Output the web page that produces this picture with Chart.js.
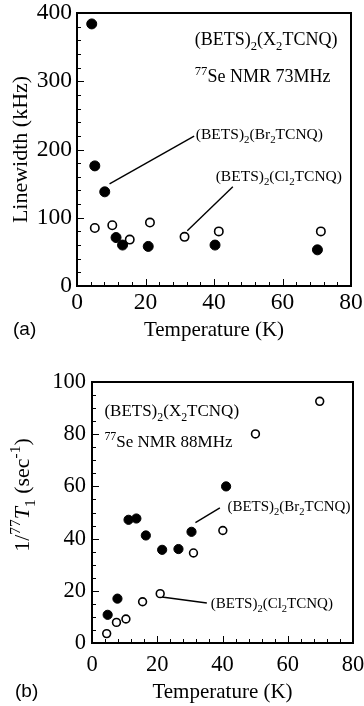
<!DOCTYPE html>
<html>
<head>
<meta charset="utf-8">
<script src="https://cdn.jsdelivr.net/npm/chart.js@4.4.1/dist/chart.umd.min.js"></script>
<style>
  html, body { margin: 0; padding: 0; background: #fff; }
  canvas { position: absolute; left: 0; }
  #chartA { top: 0; }
  #chartB { top: 345px; }
</style>
</head>
<body>
<canvas id="chartA" width="364" height="345"></canvas>
<canvas id="chartB" width="364" height="361"></canvas>
<script>
// (a) 77Se NMR linewidth, 73 MHz
const tempA_Br = [4.3, 5.2, 8.1, 11.4, 13.3, 20.8, 40.3, 70.2];
const widthA_Br = [384, 176, 138, 71, 60, 58, 60, 53];
const tempA_Cl = [5.2, 10.3, 15.4, 21.3, 31.4, 41.4, 71.2];
const widthA_Cl = [85, 89, 68, 93, 72, 80, 80];

// (b) 1/T1, 88 MHz
const tempB_Br = [4.8, 7.8, 11.2, 13.6, 16.5, 21.5, 26.5, 30.5, 41.1];
const rateB_Br = [10.8, 17, 47.2, 47.7, 41.2, 35.7, 36, 42.6, 60];
const tempB_Cl = [4.5, 7.5, 10.4, 15.5, 20.9, 31.1, 40.1, 50.1, 69.8];
const rateB_Cl = [3.6, 7.9, 9.2, 15.8, 18.9, 34.5, 43.1, 80.1, 92.6];

// leader lines from labels to points (data coords)
const leadA_BrT = [9.5, 34.2], leadA_BrV = [149.5, 219.7];
const leadA_ClT = [32.2, 45.5], leadA_ClV = [81, 145.5];
const leadB_BrT = [31.7, 39.2], leadB_BrV = [46.1, 51.8];
const leadB_ClT = [21.4, 35.2], leadB_ClV = [17.6, 15.3];

const xTicks = [0, 20, 40, 60, 80];
const yTicksA = [0, 100, 200, 300, 400];
const yTicksB = [0, 20, 40, 60, 80, 100];

const SERIF = '"Liberation Serif", "Times New Roman", serif';
Chart.defaults.font.family = SERIF;
Chart.defaults.color = '#000';

const X2 = [['(BETS)', 'n'], ['2', 'sub'], ['(X', 'n'], ['2', 'sub'], ['TCNQ)', 'n']];
const BR = [['(BETS)', 'n'], ['2', 'sub'], ['(Br', 'n'], ['2', 'sub'], ['TCNQ)', 'n']];
const CL = [['(BETS)', 'n'], ['2', 'sub'], ['(Cl', 'n'], ['2', 'sub'], ['TCNQ)', 'n']];
const NMR_A = [['77', 'sup'], ['Se NMR 73MHz', 'n']];
const NMR_B = [['77', 'sup'], ['Se NMR 88MHz', 'n']];
const T1_TITLE = [['1/', 'n'], ['77', 'sup'], ['T', 'i'], ['1', 'sub'], [' (sec', 'n'], ['-1', 'sup'], [')', 'n']];

const pts = (xs, ys) => xs.map((x, i) => ({ x: x, y: ys[i] }));

function fontFor(k, size) {
  const s = (k === 'sub' || k === 'sup') ? size * 0.7 : size;
  return (k === 'i' ? 'italic ' : '') + s + 'px ' + SERIF;
}

function richWidth(ctx, parts, size) {
  let w = 0;
  for (const [t, k] of parts) { ctx.font = fontFor(k, size); w += ctx.measureText(t).width; }
  return w;
}

// draws text with sub/superscripts, y is the middle of the normal text
function drawRich(ctx, parts, x, y, size, center) {
  if (center) x -= richWidth(ctx, parts, size) / 2;
  const base = y + size * 0.33;
  ctx.textAlign = 'left';
  ctx.textBaseline = 'alphabetic';
  ctx.fillStyle = '#000';
  for (const [t, k] of parts) {
    ctx.font = fontFor(k, size);
    const dy = k === 'sub' ? size * 0.28 : (k === 'sup' ? -size * 0.4 : 0);
    ctx.fillText(t, x, base + dy);
    x += ctx.measureText(t).width;
  }
}

function makeDecor(cfg) {
  return {
    id: 'decor',
    afterDatasetsDraw(chart) {
      const { ctx, chartArea: a } = chart;
      const x = chart.scales.x, y = chart.scales.y;
      ctx.save();
      ctx.strokeStyle = '#000';
      ctx.lineWidth = 1;
      ctx.beginPath();
      for (let v = x.min + cfg.xStep; v < x.max; v += cfg.xStep) {
        const px = Math.round(x.getPixelForValue(v)) + 0.5;
        const len = v % 20 === 0 ? 7 : 4;
        ctx.moveTo(px, a.bottom);
        ctx.lineTo(px, a.bottom - len);
      }
      for (let v = y.min + cfg.yStep; v < y.max; v += cfg.yStep) {
        const py = Math.round(y.getPixelForValue(v)) + 0.5;
        const len = v % cfg.yMajor === 0 ? 7 : 4;
        ctx.moveTo(a.left, py);
        ctx.lineTo(a.left + len, py);
      }
      ctx.stroke();
      ctx.lineWidth = 2;
      ctx.strokeRect(a.left, a.top, a.right - a.left, a.bottom - a.top);

      for (const n of cfg.notes) {
        drawRich(ctx, n.parts, x.getPixelForValue(n.x), y.getPixelForValue(n.y), n.size);
      }

      ctx.font = '19px "Liberation Sans", Arial, sans-serif';
      ctx.textAlign = 'left';
      ctx.textBaseline = 'middle';
      ctx.fillText(cfg.tag[0], cfg.tag[1], cfg.tag[2]);

      if (cfg.yTitle) {
        ctx.translate(cfg.yTitle.cx, cfg.yTitle.cy);
        ctx.rotate(-Math.PI / 2);
        drawRich(ctx, cfg.yTitle.parts, 0, 0, cfg.yTitle.size, true);
      }
      ctx.restore();
    }
  };
}

function leader(ts, vs) {
  return {
    data: pts(ts, vs), showLine: true, pointRadius: 0,
    borderColor: '#000', borderWidth: 1.4, order: 3
  };
}

function panel(id, p) {
  return new Chart(document.getElementById(id), {
    type: 'scatter',
    data: {
      datasets: [
        {
          data: pts(p.brT, p.brV), pointRadius: p.rFill, pointBorderWidth: 1,
          pointBackgroundColor: '#000', pointBorderColor: '#000', order: 1
        },
        {
          data: pts(p.clT, p.clV), pointRadius: p.rOpen, pointBorderWidth: 1.6,
          pointBackgroundColor: '#fff', pointBorderColor: '#000', order: 2
        },
        leader(p.lead[0], p.lead[1]),
        leader(p.lead[2], p.lead[3])
      ]
    },
    options: {
      responsive: false,
      animation: false,
      events: [],
      layout: { padding: p.pad },
      plugins: { legend: { display: false }, tooltip: { enabled: false } },
      scales: {
        x: {
          type: 'linear', min: 0, max: 80,
          afterBuildTicks: s => { s.ticks = xTicks.map(v => ({ value: v })); },
          ticks: { padding: p.xPad, font: { size: p.tickSize }, color: '#000', maxRotation: 0 },
          grid: { display: false, drawTicks: false },
          border: { display: false },
          title: {
            display: true, text: 'Temperature (K)', color: '#000',
            font: { size: 21 }, padding: { top: 0, bottom: p.xTitlePad }
          },
          afterFit: s => { s.height = p.xH; s.paddingLeft = 0; s.paddingRight = 0; }
        },
        y: {
          type: 'linear', min: 0, max: p.yMax,
          afterBuildTicks: s => { s.ticks = p.yTicks.map(v => ({ value: v })); },
          ticks: { padding: p.yPad, font: { size: p.tickSize }, color: '#000' },
          grid: { display: false, drawTicks: false },
          border: { display: false },
          title: p.yTitle,
          afterFit: s => { s.width = p.yW; s.paddingTop = 0; s.paddingBottom = 0; }
        }
      }
    },
    plugins: [makeDecor(p.decor)]
  });
}

panel('chartA', {
  brT: tempA_Br, brV: widthA_Br, clT: tempA_Cl, clV: widthA_Cl,
  lead: [leadA_BrT, leadA_BrV, leadA_ClT, leadA_ClV],
  rFill: 5, rOpen: 4.2, tickSize: 23.5,
  pad: { left: 0, right: 13, top: 13, bottom: 0 },
  xH: 59, yW: 77, yMax: 400, yTicks: yTicksA,
  xPad: 3, yPad: 5, xTitlePad: 2,
  yTitle: {
    display: true, text: 'Linewidth (kHz)', color: '#000',
    font: { size: 22 }, padding: { top: 8, bottom: 0 }
  },
  decor: {
    xStep: 4, yStep: 20, yMajor: 100,
    tag: ['(a)', 13, 330],
    notes: [
      { parts: X2, x: 34.4, y: 362, size: 18 },
      { parts: NMR_A, x: 34.4, y: 307, size: 18 },
      { parts: BR, x: 34.7, y: 222.7, size: 15.5 },
      { parts: CL, x: 40.5, y: 161.6, size: 15.5 }
    ]
  }
});

panel('chartB', {
  brT: tempB_Br, brV: rateB_Br, clT: tempB_Cl, clV: rateB_Cl,
  lead: [leadB_BrT, leadB_BrV, leadB_ClT, leadB_ClV],
  rFill: 4.6, rOpen: 3.9, tickSize: 22.5,
  pad: { left: 0, right: 11, top: 37, bottom: 0 },
  xH: 63, yW: 92, yMax: 100, yTicks: yTicksB,
  xPad: 9, yPad: 6, xTitlePad: 1,
  yTitle: { display: false },
  decor: {
    xStep: 4, yStep: 5, yMajor: 20,
    tag: ['(b)', 15, 347],
    yTitle: { parts: T1_TITLE, cx: 22, cy: 150, size: 22 },
    notes: [
      { parts: X2, x: 3.8, y: 89.2, size: 17 },
      { parts: NMR_B, x: 3.8, y: 77.2, size: 17 },
      { parts: BR, x: 41.5, y: 52.6, size: 15 },
      { parts: CL, x: 36.4, y: 15.4, size: 15 }
    ]
  }
});
</script>
</body>
</html>
